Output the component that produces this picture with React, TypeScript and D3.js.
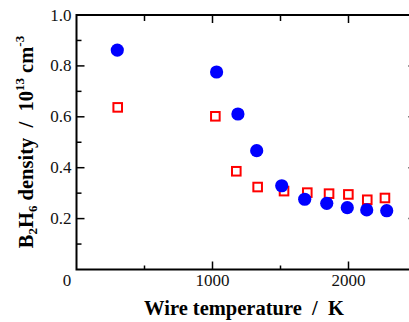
import React from "react";
import * as d3 from "d3";

// wire temperature (K)
const tempCircle = [300, 1030, 1187, 1325, 1509, 1678, 1840, 1991, 2134, 2281];
const densCircle = [0.862, 0.776, 0.611, 0.467, 0.329, 0.276, 0.26, 0.243, 0.234, 0.231];
const tempSquare = [303, 1021, 1175, 1332, 1526, 1697, 1857, 1999, 2138, 2268];
const densSquare = [0.637, 0.602, 0.386, 0.324, 0.308, 0.302, 0.298, 0.295, 0.274, 0.281];

const xTicks = [1000, 2000];
const xMinor = [500, 1500];
const yTicks = [0.2, 0.4, 0.6, 0.8, 1.0];
const yMinor = [0.1, 0.3, 0.5, 0.7, 0.9];

const W = 409;
const H = 322;

const App: React.FC = () => {
  const x = d3.scaleLinear().domain([0, 2500]).range([76.5, 416.5]);
  const y = d3.scaleLinear().domain([0, 1.0]).range([269.5, 15]);
  const [x0, x1] = x.range();
  const [yb, yt] = y.range();
  const font = "'Liberation Serif', 'Times New Roman', serif";
  const fmt = d3.format(".1f");

  return (
    <svg
      width={W}
      height={H}
      style={{ position: "absolute", left: 0, top: 0, background: "#fff" }}
      fontFamily={font}
    >
      {/* frame */}
      <rect x={x0} y={yt} width={x1 - x0} height={yb - yt} fill="none" stroke="#000" strokeWidth={2} />

      {/* x ticks bottom + top */}
      {xTicks.map((t) => (
        <g key={"xt" + t}>
          <line x1={x(t)} x2={x(t)} y1={yb} y2={yb - 8} stroke="#000" strokeWidth={1.5} />
          <line x1={x(t)} x2={x(t)} y1={yt} y2={yt + 8} stroke="#000" strokeWidth={1.5} />
          <text x={x(t)} y={285.5} fontSize={17} textAnchor="middle" fill="#111">
            {t}
          </text>
        </g>
      ))}
      {xMinor.map((t) => (
        <g key={"xm" + t}>
          <line x1={x(t)} x2={x(t)} y1={yb} y2={yb - 4} stroke="#000" strokeWidth={1.5} />
          <line x1={x(t)} x2={x(t)} y1={yt} y2={yt + 6} stroke="#000" strokeWidth={1.5} />
        </g>
      ))}
      <text x={x(0) - 9.5} y={285.5} fontSize={17} textAnchor="middle" fill="#111">
        0
      </text>

      {/* y ticks left + right */}
      {yTicks.map((t) => (
        <g key={"yt" + t}>
          <line x1={x0} x2={x0 + 8} y1={y(t)} y2={y(t)} stroke="#000" strokeWidth={1.5} />
          <line x1={x1} x2={x1 - 8} y1={y(t)} y2={y(t)} stroke="#000" strokeWidth={1.5} />
          <text x={x0 - 5} y={y(t)} dy={5.5} fontSize={17} textAnchor="end" fill="#111">
            {fmt(t)}
          </text>
        </g>
      ))}
      {yMinor.map((t) => (
        <g key={"ym" + t}>
          <line x1={x0} x2={x0 + 5} y1={y(t)} y2={y(t)} stroke="#000" strokeWidth={1.5} />
          <line x1={x1} x2={x1 - 5} y1={y(t)} y2={y(t)} stroke="#000" strokeWidth={1.5} />
        </g>
      ))}

      {/* squares */}
      {tempSquare.map((t, i) => (
        <rect
          key={"s" + i}
          x={x(t) - 4.3}
          y={y(densSquare[i]) - 4.3}
          width={8.6}
          height={8.6}
          fill="#fff"
          stroke="#ff0000"
          strokeWidth={2}
        />
      ))}
      {/* circles */}
      {tempCircle.map((t, i) => (
        <circle key={"c" + i} cx={x(t)} cy={y(densCircle[i])} r={6.6} fill="#0000ff" />
      ))}

      {/* x label */}
      <text
        x={244}
        y={315}
        fontSize={20.5}
        fontWeight="bold"
        textAnchor="middle"
        style={{ whiteSpace: "pre" }}
      >
        {"Wire temperature  /  K"}
      </text>

      {/* y label */}
      <text
        transform="translate(33,142) rotate(-90)"
        fontSize={20.5}
        fontWeight="bold"
        textAnchor="middle"
        style={{ whiteSpace: "pre" }}
      >
        <tspan>B</tspan>
        <tspan fontSize={13} dy={4}>2</tspan>
        <tspan dy={-4}>H</tspan>
        <tspan fontSize={13} dy={4}>6</tspan>
        <tspan dy={-4}>{" density  /  10"}</tspan>
        <tspan fontSize={13} dy={-9}>13</tspan>
        <tspan dy={9}>{" cm"}</tspan>
        <tspan fontSize={13} dy={-9}>-3</tspan>
      </text>
    </svg>
  );
};

export default App;
